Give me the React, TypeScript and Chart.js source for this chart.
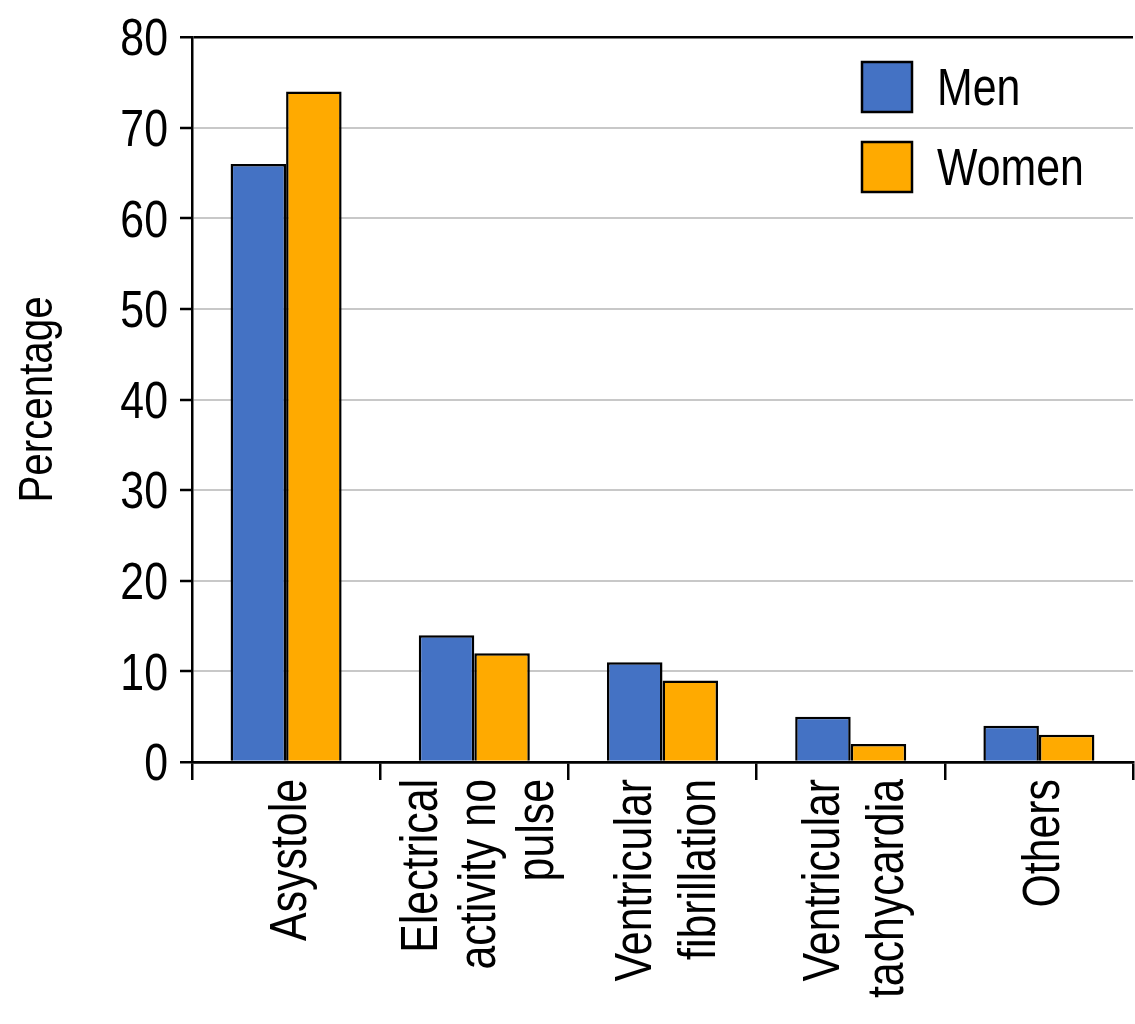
import React, { useEffect, useRef } from "react";
import Chart from "chart.js/auto";
import type { Chart as ChartJS, Plugin } from "chart.js";

// categories, one entry per text line (labels are rotated 90deg)
const CATEGORY_LINES: string[][] = [
  ["Asystole"],
  ["Electrical", "activity no", "pulse"],
  ["Ventricular", "fibrillation"],
  ["Ventricular", "tachycardia"],
  ["Others"],
];
const CATEGORIES = CATEGORY_LINES.map((l) => l.join(" "));
const MEN = [66, 14, 11, 5, 4];
const WOMEN = [74, 12, 9, 2, 3];
const Y_TICKS = [0, 10, 20, 30, 40, 50, 60, 70, 80];
const SERIES_NAMES = ["Men", "Women"];
const Y_TITLE = "Percentage";

const BLUE = "#4472C4";
const ORANGE = "#FFAA00";
const GRID = "#C8C8C8";
const FONT = "'Liberation Sans', Arial, sans-serif";
const NARROW = 0.84; // Helvetica Narrow look
const CAP = 36.5; // cap height of 51px text

// draw text squeezed horizontally, optionally rotated
function narrowText(
  g: CanvasRenderingContext2D,
  txt: string,
  x: number,
  y: number,
  size: number,
  align: CanvasTextAlign,
  rot = 0
) {
  g.save();
  g.font = `${size}px ${FONT}`;
  g.fillStyle = "#000";
  g.textAlign = align;
  g.textBaseline = "alphabetic";
  g.translate(x, y);
  g.rotate(rot);
  g.scale(NARROW, 1);
  g.fillText(txt, 0, 0);
  g.restore();
}

export default function App() {
  const canvasRef = useRef<HTMLCanvasElement | null>(null);
  const chartRef = useRef<ChartJS | null>(null);

  useEffect(() => {
    const ctx = canvasRef.current?.getContext("2d");
    if (!ctx) return;
    if (chartRef.current) {
      chartRef.current.destroy();
      chartRef.current = null;
    }

    const axisText: Plugin<"bar"> = {
      id: "axisText",
      afterDraw(c) {
        const g = c.ctx;
        const xs: any = c.scales.x;
        const ys: any = c.scales.y;
        const { bottom, left, top } = c.chartArea;

        // y tick labels
        Y_TICKS.forEach((v) => {
          const py = ys.getPixelForValue(v);
          narrowText(g, String(v), left - 24, py + CAP / 2, 51, "right");
        });

        // y title
        narrowText(g, Y_TITLE, 52, (top + bottom) / 2, 48, "center", -Math.PI / 2);

        // rotated multi-line category labels
        CATEGORY_LINES.forEach((lines, i) => {
          const cx = xs.getPixelForValue(i);
          const lh = lines.length > 2 ? 58 : 64;
          lines.forEach((txt, j) => {
            const lx = cx + (j - (lines.length - 1) / 2) * lh + CAP / 2 + 2;
            narrowText(g, txt, lx, bottom + 17, 51, "right", -Math.PI / 2);
          });
        });
      },
    };

    // legend inside the plot, top right
    const boxLegend: Plugin<"bar"> = {
      id: "boxLegend",
      afterDraw(c) {
        const g = c.ctx;
        const { right, top } = c.chartArea;
        const colors = [BLUE, ORANGE];
        SERIES_NAMES.forEach((name, i) => {
          const bx = right - 271;
          const by = top + 25 + i * 80;
          g.save();
          g.fillStyle = colors[i];
          g.fillRect(bx, by, 50, 50);
          g.lineWidth = 2.5;
          g.strokeStyle = "#000";
          g.strokeRect(bx, by, 50, 50);
          g.restore();
          narrowText(g, name, bx + 75, by + 25 + CAP / 2, 51, "left");
        });
      },
    };

    const chart = new Chart(ctx, {
      type: "bar",
      data: {
        labels: CATEGORIES,
        datasets: [
          {
            label: SERIES_NAMES[0],
            data: MEN,
            backgroundColor: BLUE,
            borderColor: "#000",
            borderWidth: 2.5,
          },
          {
            label: SERIES_NAMES[1],
            data: WOMEN,
            backgroundColor: ORANGE,
            borderColor: "#000",
            borderWidth: 2.5,
          },
        ],
      },
      options: {
        animation: false,
        responsive: false,
        maintainAspectRatio: false,
        devicePixelRatio: 1,
        layout: { padding: { top: 37, right: 2, left: 0, bottom: 0 } },
        datasets: { bar: { categoryPercentage: 0.59, barPercentage: 1 } },
        plugins: { legend: { display: false }, tooltip: { enabled: false } },
        scales: {
          x: {
            afterFit(scale: any) {
              scale.height = 262;
            },
            ticks: { display: false },
            border: { display: true, color: "#000", width: 2.5 },
            grid: {
              offset: true,
              drawOnChartArea: true,
              drawTicks: true,
              tickLength: 18,
              tickWidth: 2.5,
              tickColor: "#000",
              lineWidth: 2.5,
              color: (gc: any) => (gc.index === CATEGORIES.length ? "#000" : "rgba(0,0,0,0)"),
            },
          },
          y: {
            min: 0,
            max: 80,
            afterFit(scale: any) {
              scale.width = 192;
            },
            afterBuildTicks(scale: any) {
              scale.ticks = Y_TICKS.map((v) => ({ value: v }));
            },
            ticks: { display: false },
            border: { display: true, color: "#000", width: 2.5 },
            grid: {
              drawTicks: true,
              tickLength: 12,
              tickWidth: 2.5,
              tickColor: "#000",
              lineWidth: (gc: any) =>
                gc.tick && (gc.tick.value === 0 || gc.tick.value === 80) ? 2.5 : 2,
              color: (gc: any) =>
                gc.tick && (gc.tick.value === 0 || gc.tick.value === 80) ? "#000" : GRID,
            },
          },
        },
      },
      plugins: [axisText, boxLegend],
    });

    chartRef.current = chart;
    return () => {
      chart.destroy();
      chartRef.current = null;
    };
  }, []);

  return (
    <div style={{ position: "absolute", left: 0, top: 0, width: 1135, height: 1024, background: "#fff" }}>
      <canvas ref={canvasRef} width={1135} height={1024} style={{ width: 1135, height: 1024 }} />
    </div>
  );
}
